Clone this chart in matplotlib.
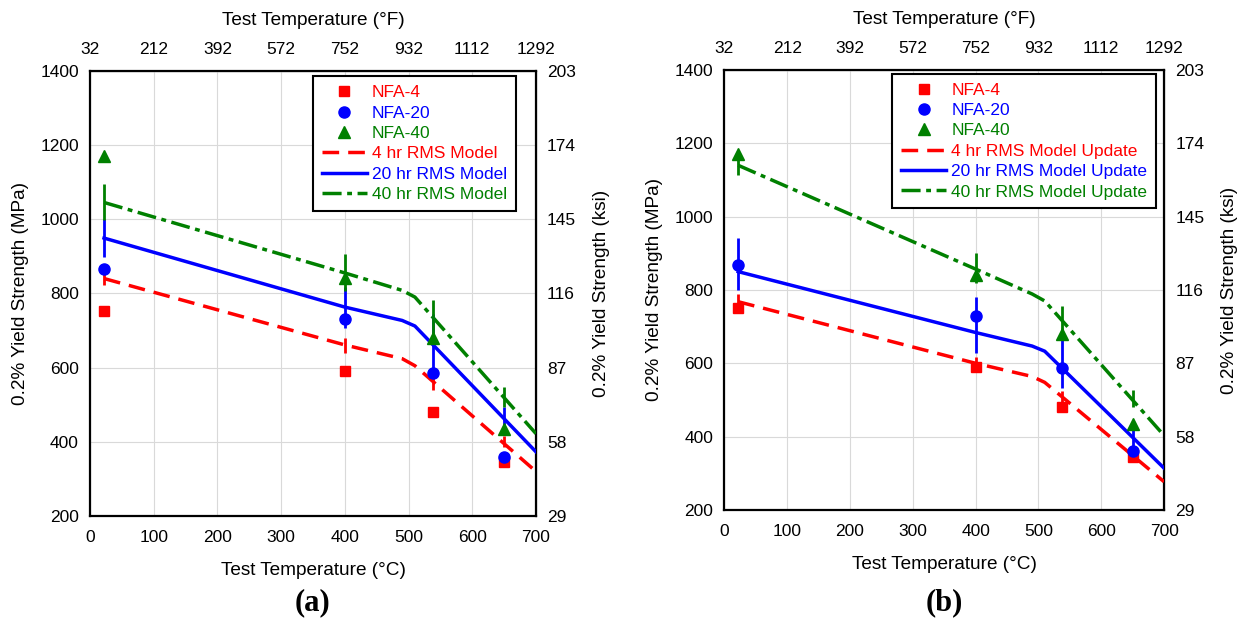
import numpy as np
import matplotlib
matplotlib.use('Agg')
import matplotlib.pyplot as plt
from matplotlib.lines import Line2D

plt.rcParams['font.family'] = ['Liberation Sans', 'DejaVu Sans']

# measured yield strength (MPa) at the test temperatures (C)
test_T = [22, 400, 538, 650]
nfa4 = [752, 590, 480, 345]
nfa20 = [867, 730, 586, 360]
nfa40 = [1170, 842, 680, 434]

# model curves, knots in C
model_T = [22, 400, 490, 510, 700]
rms4_a = [840, 661, 624, 605, 320]
rms20_a = [949, 763, 727, 712, 373]
rms40_a = [1045, 855, 808, 790, 422]
rms4_b = [768, 600, 564, 548, 277]
rms20_b = [850, 684, 647, 633, 314]
rms40_b = [1140, 857, 789, 770, 403]

# model scatter bands at the test temperatures (low / high, MPa)
bar4_a_lo = [822, 640, 539, 385]
bar4_a_hi = [858, 680, 574, 416]
bar20_a_lo = [897, 708, 586, 430]
bar20_a_hi = [1001, 816, 745, 495]
bar40_a_lo = [999, 806, 670, 493]
bar40_a_hi = [1095, 906, 782, 547]
bar4_b_lo = [765, 590, 492, 335]
bar4_b_hi = [790, 618, 525, 362]
bar20_b_lo = [800, 628, 533, 366]
bar20_b_hi = [942, 781, 677, 430]
bar40_b_lo = [1114, 819, 677, 482]
bar40_b_hi = [1182, 901, 756, 527]

F_TICKS = [32, 212, 392, 572, 752, 932, 1112, 1292]
MPA_TICKS = [200, 400, 600, 800, 1000, 1200, 1400]
KSI_LABELS = ['29', '58', '87', '116', '145', '174', '203']

RED, BLUE, GREEN = '#ff0000', '#0000ff', '#008000'
LW = 2.5
DASH = (0, (4.8, 2.6))
DASHDOT = (0, (5.5, 1.6, 1.4, 1.6))
FS = 12.5
LFS = 13.7


def c2f(c):
    return np.asarray(c) * 1.8 + 32


def f2c(f):
    return (np.asarray(f) - 32) / 1.8


def mpa2ksi(m):
    return np.asarray(m) / 6.895


def ksi2mpa(k):
    return np.asarray(k) * 6.895


def panel(ax, models, bars, suffix, leg_anchor):
    ax.set_xlim(0, 700)
    ax.set_ylim(200, 1400)
    ax.set_xticks(range(0, 701, 100))
    ax.set_yticks(MPA_TICKS)
    ax.grid(True, color='#d9d9d9', linewidth=0.8)
    ax.set_axisbelow(True)
    for s in ax.spines.values():
        s.set_linewidth(1.6)
    ax.tick_params(length=0, labelsize=FS)
    ax.tick_params(axis='x', pad=10)
    ax.tick_params(axis='y', pad=8)

    r4, r20, r40 = models
    ax.plot(model_T, r4, color=RED, lw=LW, linestyle=DASH, zorder=3)
    ax.plot(model_T, r20, color=BLUE, lw=LW, zorder=3)
    ax.plot(model_T, r40, color=GREEN, lw=LW, linestyle=DASHDOT, zorder=3)

    for (lo, hi), c, z in zip(bars, [RED, BLUE, GREEN], [4, 5, 6]):
        ax.vlines(test_T, lo, hi, color=c, lw=2.0, zorder=z)

    ax.plot(test_T, nfa4, 's', color=RED, ms=7.5, zorder=7)
    ax.plot(test_T, nfa20, 'o', color=BLUE, ms=8, zorder=8)
    ax.plot(test_T, nfa40, '^', color=GREEN, ms=8.5, zorder=9)

    ax.set_xlabel('Test Temperature (°C)', fontsize=LFS, labelpad=12)
    ax.set_ylabel('0.2% Yield Strength (MPa)', fontsize=LFS, labelpad=8)

    top = ax.secondary_xaxis('top', functions=(c2f, f2c))
    top.set_xticks(F_TICKS)
    top.tick_params(length=0, labelsize=FS, pad=10)
    top.set_xlabel('Test Temperature (°F)', fontsize=LFS, labelpad=12)

    right = ax.secondary_yaxis('right', functions=(mpa2ksi, ksi2mpa))
    right.set_yticks([m / 6.895 for m in MPA_TICKS])
    right.set_yticklabels(KSI_LABELS)
    right.tick_params(length=0, labelsize=FS, pad=8)
    right.set_ylabel('0.2% Yield Strength (ksi)', fontsize=LFS, rotation=90, labelpad=12)

    handles = [
        Line2D([], [], marker='s', color=RED, linestyle='none', ms=7.5),
        Line2D([], [], marker='o', color=BLUE, linestyle='none', ms=8),
        Line2D([], [], marker='^', color=GREEN, linestyle='none', ms=8.5),
        Line2D([], [], color=RED, lw=LW, linestyle=DASH),
        Line2D([], [], color=BLUE, lw=LW),
        Line2D([], [], color=GREEN, lw=LW, linestyle=DASHDOT),
    ]
    labels = ['NFA-4', 'NFA-20', 'NFA-40',
              '4 hr RMS Model' + suffix, '20 hr RMS Model' + suffix,
              '40 hr RMS Model' + suffix]
    leg = ax.legend(handles, labels, loc='upper right', bbox_to_anchor=leg_anchor,
                    borderaxespad=0, fontsize=FS, frameon=True, fancybox=False,
                    framealpha=1, edgecolor='black', handlelength=2.6,
                    handletextpad=0.3, labelspacing=0.3, borderpad=0.5)
    leg.get_frame().set_linewidth(1.5)
    for t, c in zip(leg.get_texts(), [RED, BLUE, GREEN, RED, BLUE, GREEN]):
        t.set_color(c)


fig = plt.figure(figsize=(12.45, 6.18), dpi=100)
ax_a = fig.add_axes([0.0723, 0.165, 0.3582, 0.7206])
ax_b = fig.add_axes([0.5818, 0.1748, 0.3532, 0.712])

panel(ax_a, (rms4_a, rms20_a, rms40_a),
      [(bar4_a_lo, bar4_a_hi), (bar20_a_lo, bar20_a_hi), (bar40_a_lo, bar40_a_hi)],
      '', (0.955, 0.987))
panel(ax_b, (rms4_b, rms20_b, rms40_b),
      [(bar4_b_lo, bar4_b_hi), (bar20_b_lo, bar20_b_hi), (bar40_b_lo, bar40_b_hi)],
      ' Update', (0.982, 0.991))

fig.text(313 / 1245, 1 - 603 / 618, '(a)', family='Liberation Serif', weight='bold',
         fontsize=22, ha='center', va='center')
fig.text(944 / 1245, 1 - 603 / 618, '(b)', family='Liberation Serif', weight='bold',
         fontsize=22, ha='center', va='center')

fig.savefig('out.png', dpi=100)
